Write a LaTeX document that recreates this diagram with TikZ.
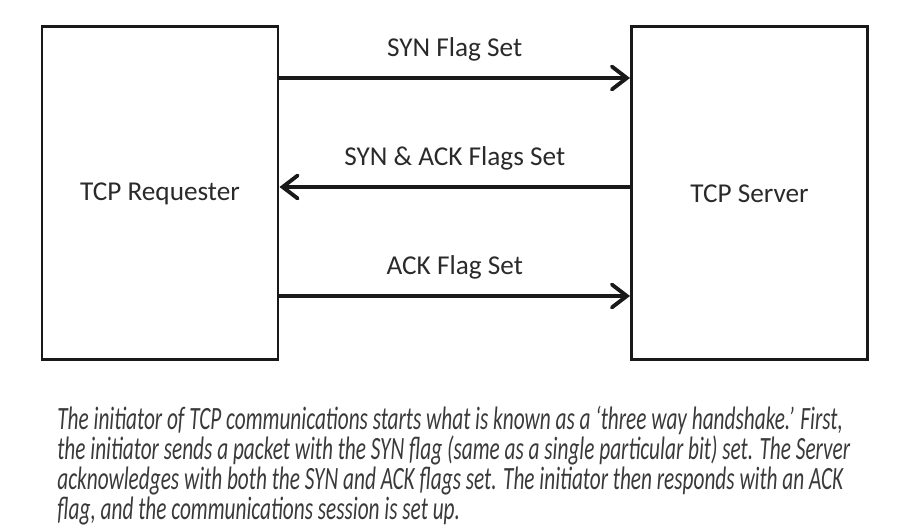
\documentclass[tikz,border=0pt]{standalone}
\usepackage{fontspec}
\setmainfont{Carlito}
\newfontfamily\captionfont[FakeStretch=0.655]{Carlito}
\usetikzlibrary{arrows.meta, positioning}

\definecolor{inkgray}{HTML}{2A2A2A}
\definecolor{captiongray}{HTML}{3A3A3A}

\begin{document}
\begin{tikzpicture}[
    host/.style={draw=black!90, line width=1.7pt, minimum width=4.72cm, minimum height=6.66cm,
                 font=\fontsize{15.5}{18}\selectfont, text=inkgray},
    flow/.style={line width=2.2pt, draw=black!90, -{Straight Barb[length=3mm, width=4.6mm, line cap=round]}},
    flag/.style={above, font=\fontsize{15.5}{18}\selectfont, text=inkgray, inner sep=8.5pt}
]
\useasboundingbox (0,0) rectangle (18,10.6);

% 两端主机
\node[host] (requester) at (3.2,6.73) {TCP Requester};
\node[host] (server) at (14.99,6.73) {TCP Server};

% 三次握手
\draw[flow] ([yshift=2.31cm]requester.east) -- node[flag] (syn) {SYN Flag Set} ([yshift=2.31cm]server.west);
\draw[flow] ([yshift=0.13cm]server.west) -- node[flag] (synack) {SYN \& ACK Flags Set} ([yshift=0.13cm]requester.east);
\draw[flow] ([yshift=-2.05cm]requester.east) -- node[flag] (ack) {ACK Flag Set} ([yshift=-2.05cm]server.west);

% 说明文字
\node[anchor=north west, align=left, inner sep=0pt, text=captiongray,
      font=\captionfont\itshape\fontsize{18.5}{14.9}\selectfont] (caption) at (1.14,2.49)
{The initiator of TCP communications starts what is known as a ‘three way handshake.’ First,\\
the initiator sends a packet with the SYN flag (same as a single particular bit) set. The Server\\
acknowledges with both the SYN and ACK flags set. The initiator then responds with an ACK\\
flag, and the communications session is set up.};
\end{tikzpicture}
\end{document}
